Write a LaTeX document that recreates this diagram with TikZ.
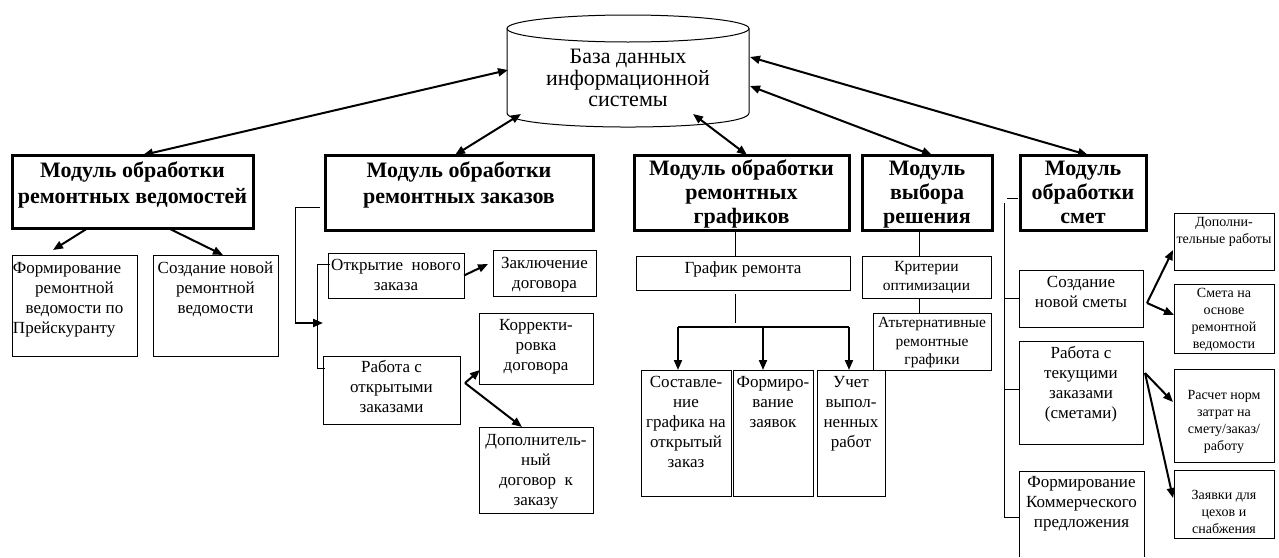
\documentclass[tikz,border=0pt]{standalone}
\usepackage{fontspec}
\setmainfont{Liberation Serif}
\usetikzlibrary{arrows.meta,calc}
\newcommand\fmod{\fontsize{22}{24}\selectfont\bfseries}
\newcommand\fmodw{\fontsize{22}{26}\selectfont\bfseries}
\newcommand\freg{\fontsize{17}{20}\selectfont}
\newcommand\fsml{\fontsize{15.5}{18.5}\selectfont}
\newcommand\ftny{\fontsize{14}{17}\selectfont}
\newcommand\fdb{\fontsize{22}{21.5}\selectfont}
\newcommand\mybox[8][]{\node[cell,#1] (#2) at (#3,#4) {\parbox[c][#6pt][t]{#5pt}{\centering\vspace*{#7pt}\strut#8\par}};}
\tikzset{
  cell/.style={draw, line width=1pt, inner sep=0pt, outer sep=0pt, anchor=north west, font=\freg},
  modbox/.style={cell, line width=3pt, font=\fmod},
  ln/.style={line width=1pt},
  thk/.style={line width=2pt},
  arr/.style={line width=2pt, -{Triangle[length=10pt,width=8pt]}},
  dbl/.style={line width=2pt, {Triangle[length=10pt,width=8pt]}-{Triangle[length=10pt,width=8pt]}},
}
\begin{document}
\begin{tikzpicture}[x=1pt,y=-1pt]
\useasboundingbox (0,0) rectangle (1279,557);

% database cylinder
\draw[ln] (507,28.5) -- (507,113) .. controls (507,131.7) and (749,131.7) .. (749,113) -- (749,28.5);
\draw[ln] (628,28.5) ellipse [x radius=121, y radius=13.5];
\node[font=\fdb, align=center, inner sep=0pt] (db) at (628,78) {База данных\\информационной\\системы};
\coordinate (dbA) at (508,70);
\coordinate (dbB) at (521,114);
\coordinate (dbC) at (693,114);
\coordinate (dbD) at (750,86);
\coordinate (dbE) at (750,57);

% modules
\mybox[modbox,font=\fmodw]{m1}{12}{155}{241}{73}{4.5}{Модуль обработки\\ремонтных ведомостей}
\mybox[modbox,font=\fmodw]{m2}{325}{155}{268}{75}{4.5}{Модуль обработки\\ремонтных заказов}
\mybox[modbox]{m3}{634}{155}{215}{75}{3.5}{Модуль обработки\\ремонтных\\графиков}
\mybox[modbox]{m4}{862}{155}{130}{75}{3.5}{Модуль\\выбора\\решения}
\mybox[modbox]{m5}{1020}{155}{126}{75}{3.5}{Модуль\\обработки\\смет}

% module 1 children
\mybox{f1}{12}{255}{125}{101}{4}{\makebox[\linewidth][l]{\hspace{1pt}Формирование}\\ремонтной\\ведомости по\\\makebox[\linewidth][l]{\hspace{1pt}Прейскуранту}}
\mybox{f2}{153}{255}{125}{101}{4}{Создание новой\\ремонтной\\ведомости}

% module 2 children
\mybox{o1}{328}{253}{136}{45}{3.5}{Открытие\ \ нового\\заказа}
\mybox{z1}{493}{250}{103}{46}{4}{Заключение\\договора}
\mybox{r1}{323}{356}{137}{68}{2.5}{Работа с\\открытыми\\заказами}
\mybox{k2}{479}{313}{114}{71}{3.5}{Корректи-\\ровка\\договора}
\mybox{d2}{479}{427}{114}{86}{4}{Дополнитель-\\ный\\договор\ \ к\\заказу}

% module 3 children
\mybox{g3}{636}{256}{214}{34}{3.5}{График ремонта}
\mybox{s1}{641}{370}{90}{126}{3.5}{Составле-\\ние\\графика на\\открытый\\заказ}
\mybox{s2}{733}{370}{80}{126}{3.5}{Формиро-\\вание\\заявок}
\mybox{s3}{817}{370}{68}{126}{3.5}{Учет\\выпол-\\ненных\\работ}

% module 4 children
\mybox[font=\fsml]{kr}{862}{256}{129}{42}{3}{Критерии\\оптимизации}
\mybox[font=\fsml]{at}{873}{313}{118}{57}{2}{Атьтернативные\\ремонтные\\графики}

% module 5 children
\mybox{cn}{1019}{270}{124}{57}{3.5}{Создание\\новой сметы}
\mybox{rt}{1019}{341}{124}{103}{3.5}{Работа с\\текущими\\заказами\\(сметами)}
\mybox[draw=none]{fk}{1019}{471}{125}{86}{2.5}{Формирование\\Коммерческого\\предложения}
\draw[ln] (fk.south west) -- (fk.north west) -- (fk.north east) -- (fk.south east);
\mybox[font=\ftny]{dp}{1174}{213}{100}{57}{2}{Дополни-\\тельные работы}
\mybox[font=\ftny]{sm}{1174}{284}{100}{69}{2}{Смета на\\основе\\ремонтной\\ведомости}
\mybox[font=\ftny]{rs}{1174}{369}{100}{93}{19}{Расчет норм\\затрат на\\смету/заказ/\\работу}
\mybox[font=\ftny]{zv}{1174}{470}{100}{68}{18}{Заявки для\\цехов и\\снабжения}

% database connectors
\draw[dbl] ($(m1.north west)+(131,0)$) -- (dbA);
\draw[dbl] ($(m2.north west)+(130,0)$) -- (dbB);
\draw[dbl] (dbC) -- ($(m3.north west)+(113,0)$);
\draw[dbl] (dbD) -- ($(m4.north west)+(70,0)$);
\draw[dbl] (dbE) -- ($(m5.north west)+(68,0)$);

% module 1 connectors
\draw[arr] ($(m1.south west)+(76,0)$) -- ($(f1.north west)+(41,-5)$);
\draw[arr] ($(m1.south west)+(156,0)$) -- ($(f2.north west)+(70,0)$);

% module 2 connectors
\coordinate (b2a) at (295,207);
\coordinate (b2b) at (295,323);
\coordinate (b2c) at (323,323);
\draw[ln] ($(m2.south west)+(-5,-23)$) -- (b2a) -- (b2b);
\draw[arr] (b2b) -- (b2c);
\draw[ln] ($(o1.north west)+(2,11)$) -| ($(r1.north west)+(-6,12)$) -- ++(8,0);
\draw[arr] (o1.east) -- ($(z1.west)+(-5,-9)$);
\coordinate (j2) at (465,383);
\draw[arr] (j2) -- ($(k2.south west)+(1,-14)$);
\draw[arr] (j2) -- ($(d2.north west)+(43,0)$);

% module 3 connectors
\coordinate (v3) at (735,0);
\coordinate (v3b) at (735,294);
\coordinate (v3c) at (735,323);
\coordinate (h1) at (678,327);
\coordinate (h2) at (763,327);
\coordinate (h3) at (849,327);
\draw[ln] (v3 |- m3.south) -- (v3 |- g3.north);
\draw[ln] (v3b) -- (v3c);
\draw[thk] (h1) -- (h3);
\draw[arr] (h1) -- (h1 |- s1.north);
\draw[arr] (h2) -- (h2 |- s2.north);
\draw[arr] (h3) -- (h3 |- s3.north);

% module 4 connectors
\coordinate (v4) at (919,0);
\draw[ln] (v4 |- m4.south) -- (v4 |- kr.north);
\draw[ln] (v4 |- kr.south) -- (v4 |- at.north);

% module 5 connectors
\coordinate (t5a) at (1007,198);
\coordinate (t5b) at (1018,198);
\coordinate (v5top) at (1004,203);
\coordinate (v5bot) at (1004,517);
\draw[ln] (t5a) -- (t5b);
\draw[ln] (v5top) -- (v5bot) -- (v5bot -| fk.west);
\draw[ln] (cn.west -| v5top) -- (cn.west);
\draw[ln] ($(rt.west -| v5top)+(0,-3)$) -- ($(rt.west)+(0,-3)$);
\coordinate (j5a) at (1147,303);
\coordinate (j5b) at (1145,373);
\draw[arr] (j5a) -- ($(dp.south west)+(-1,-20)$);
\draw[arr] (j5a) -- ($(sm.north west)+(0,31)$);
\draw[arr] (j5b) -- ($(rs.north west)+(-1,33)$);
\draw[arr] (j5b) -- ($(zv.north west)+(-1,28)$);
\end{tikzpicture}
\end{document}
